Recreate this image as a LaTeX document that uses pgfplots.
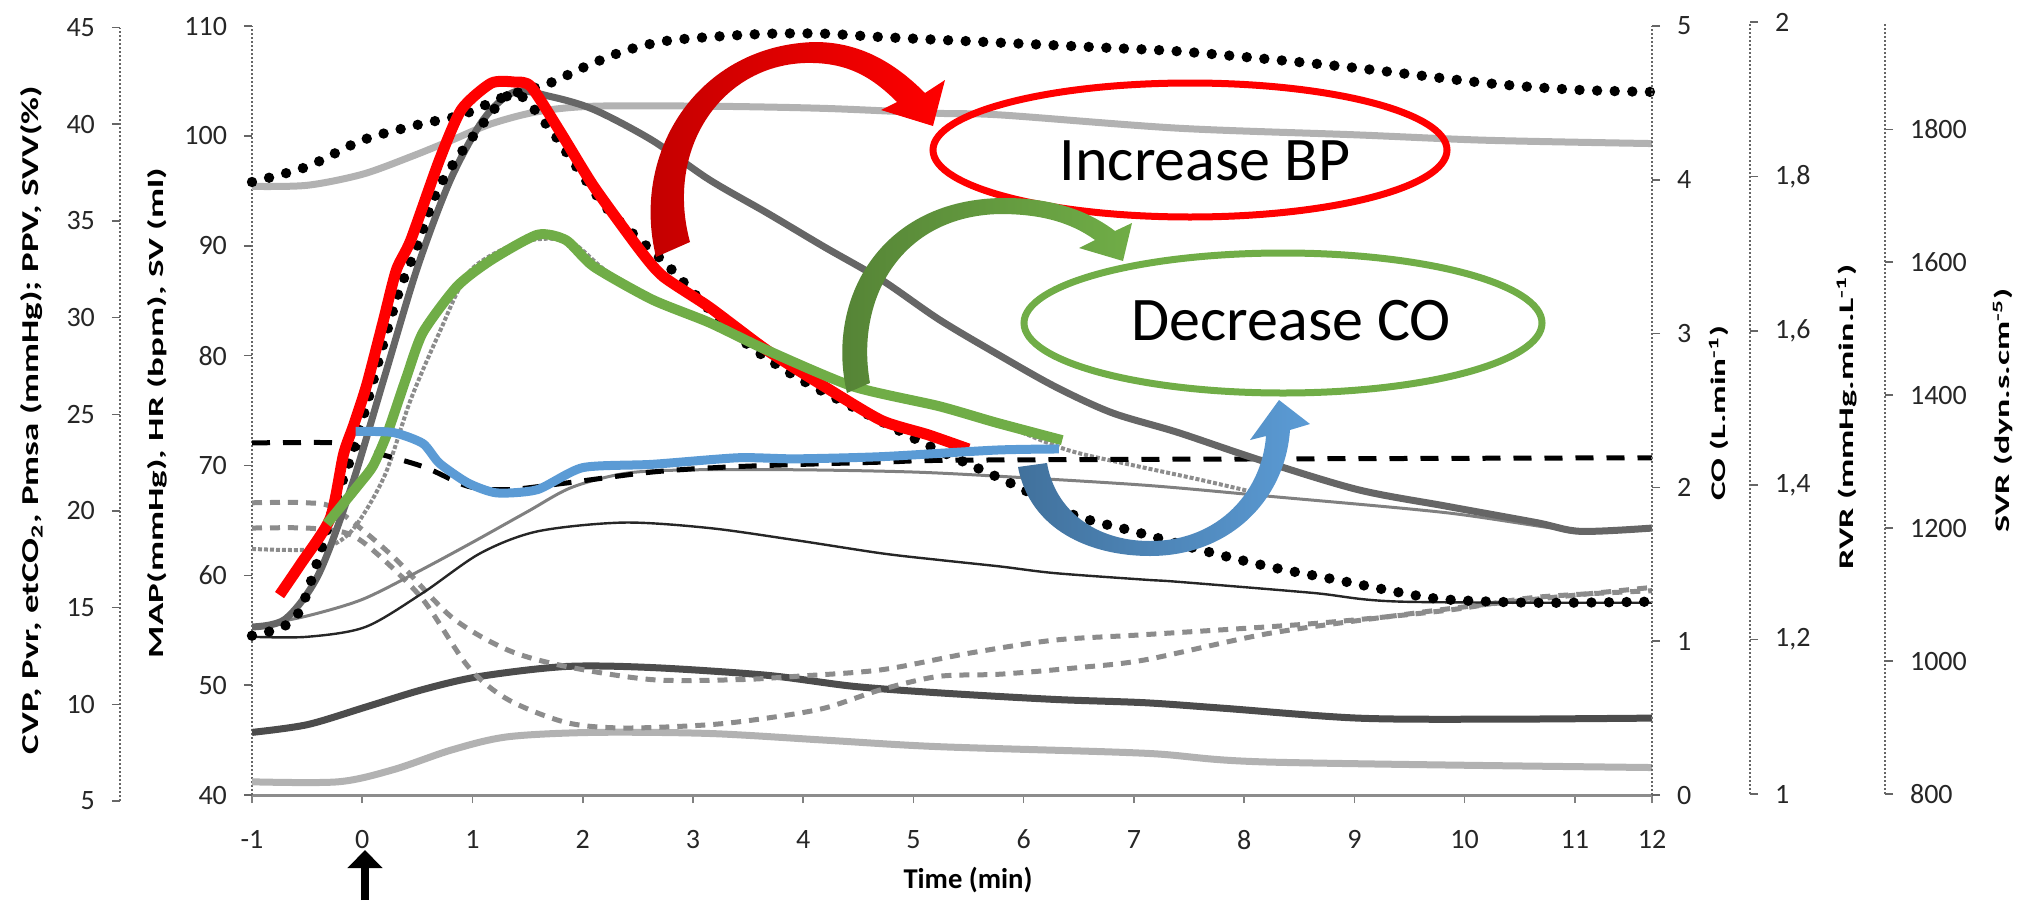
\documentclass[border=0pt]{standalone}
\usepackage{pgfplots}
\pgfplotsset{compat=1.18}
\usepackage{fontspec}
\setmainfont{Carlito}
\usepackage{graphicx}
\usetikzlibrary{arrows.meta}

\definecolor{myred}{HTML}{FF0000}
\definecolor{myreddk}{HTML}{C00000}
\definecolor{mygreen}{HTML}{70AD47}
\definecolor{mygreendk}{HTML}{548235}
\definecolor{myblue}{HTML}{5B9BD5}
\definecolor{mybluedk}{HTML}{41719C}

\pgfplotsset{
  bigdots/.style={black, line width=5.2pt, line cap=round, dash pattern=on 0pt off 8.8pt, smooth},
  sideaxis/.style={scale only axis, hide x axis, xmin=0, xmax=1,
    tick align=outside, major tick length=4pt,
    y axis line style={-, black!60, line width=1pt, densely dotted},
    ytick style={black!60, line width=0.8pt},
    tick label style={font=\fontsize{14}{16}\selectfont, text=black!85},
    /pgf/number format/assume math mode=true,
    /pgf/number format/1000 sep={}},
}

\begin{document}
\begin{tikzpicture}

% left outer axis: CVP ...
\begin{axis}[sideaxis, at={(-66pt,-3pt)}, anchor=south west, width=20pt, height=386.7pt,
  ymin=5, ymax=45, axis y line*=left, ytick={5,10,...,45}, yticklabel style={xshift=-5pt}]
\end{axis}

% main axis: MAP, HR, SV
\begin{axis}[at={(0,0)}, anchor=south west, scale only axis, width=700pt, height=384.5pt,
  xmin=-1, xmax=11.7, ymin=40, ymax=110,
  axis x line*=bottom, axis y line*=left,
  x axis line style={-, draw=black!45, line width=1.5pt},
  y axis line style={-, draw=black!60, line width=1pt, densely dotted},
  xtick={-1,0,1,2,3,4,5,6,7,8,9,10,11,11.7},
  xticklabels={-1,0,1,2,3,4,5,6,7,8,9,10,11,12},
  ytick={40,50,...,110},
  tick align=outside, major tick length=4pt,
  x tick style={black!50, line width=0.8pt},
  y tick style={black!60, line width=0.8pt},
  tick label style={font=\fontsize{14}{16}\selectfont, text=black!85},
  xticklabel style={yshift=-10pt},
  yticklabel style={xshift=-5pt},
  /pgf/number format/assume math mode=true,
  clip=false]

% L light grey bottom
\addplot[black!30, line width=3.5pt, smooth] coordinates {(-1,41.2) (-0.22,41.2) (0.28,42.3) (0.81,44.1) (1.32,45.3) (2.1,45.7) (3.15,45.6) (4.19,45.0) (5.23,44.4) (7.1,43.8) (8.22,43.0) (11.7,42.5)};
% K dark thick
\addplot[black!70, line width=3.5pt, smooth] coordinates {(-1,45.7) (-0.5,46.4) (0.03,48.0) (0.55,49.6) (1.07,50.8) (1.85,51.7) (2.63,51.6) (3.67,50.9) (4.45,49.9) (5.23,49.3) (6.28,48.7) (7.1,48.4) (7.81,47.9) (9.03,47.0) (10.24,46.9) (11.7,47.0)};
% J grey dashed lower
\addplot[black!45, line width=2.5pt, dash pattern=on 5pt off 4pt, smooth] coordinates {(-1,64.3) (-0.5,64.3) (-0.13,63.8) (0.13,62.0) (0.55,57.8) (0.96,51.7) (1.32,48.7) (1.85,46.6) (2.37,46.1) (3.15,46.4) (3.67,47.0) (4.19,47.9) (4.71,49.6) (5.23,50.8) (5.79,51.0) (6.5,51.6) (7.1,52.3) (8.22,54.7) (9.43,56.4) (10.24,57.4) (11.7,58.9)};
% I grey dashed upper
\addplot[black!45, line width=2.5pt, dash pattern=on 5pt off 4pt, smooth] coordinates {(-1,66.6) (-0.5,66.6) (-0.24,66.0) (0.28,61.7) (0.81,56.2) (1.32,53.2) (1.85,51.7) (2.63,50.5) (3.41,50.5) (3.93,50.8) (4.71,51.4) (5.5,52.9) (6.28,54.1) (7.1,54.6) (8.62,55.6) (9.83,56.8) (10.65,58.0) (11.7,58.6)};
% H thin black
\addplot[black!85, line width=1.2pt, smooth] coordinates {(-1,54.4) (-0.5,54.4) (0.03,55.3) (0.55,58.4) (1.07,62.0) (1.59,64.0) (2.37,64.8) (3.15,64.3) (3.93,63.2) (4.71,62.0) (5.23,61.4) (5.79,60.8) (6.28,60.2) (7.1,59.6) (7.41,59.4) (8.62,58.4) (9.43,57.6) (11.7,57.5)};
% G thin grey
\addplot[black!50, line width=1.5pt, smooth] coordinates {(-1,55.3) (-0.5,56.3) (0,57.8) (0.5,60.3) (1.0,63.0) (1.5,65.8) (1.9,68.0) (2.4,69.3) (3.0,69.6) (4.0,69.6) (5.0,69.4) (5.8,69.0) (7.1,68.2) (8.22,67.2) (9.83,65.7) (11.05,64.0) (11.7,64.3)};
% F grey dotted
\addplot[black!45, line width=2pt, densely dotted, smooth] coordinates {(-1,62.4) (-0.4,62.4) (-0.1,64.0) (0.2,69.0) (0.44,76.0) (0.7,82.1) (0.96,87.5) (1.3,89.8) (1.6,90.6) (1.9,90.3) (2.2,87.8) (2.63,85.0) (3.15,82.8) (3.67,80.4) (4.45,77.1) (5.23,75.3) (5.75,73.9) (6.4,71.4) (7.0,70.0) (7.6,68.7) (8.2,67.3)};
% E black dashed
\addplot[black, line width=2.5pt, dash pattern=on 9pt off 6.5pt, smooth] coordinates {(-1,72.05) (-0.18,72.05) (0.03,71.4) (0.55,69.9) (0.96,68.1) (1.32,67.8) (1.85,68.4) (2.63,69.4) (3.41,69.9) (4.71,70.3) (5.75,70.5) (11.7,70.7)};
% B light grey top
\addplot[black!30, line width=3.5pt, smooth] coordinates {(-1,95.4) (-0.5,95.5) (0,96.5) (0.44,98.1) (0.81,99.6) (1.17,101.1) (1.59,102.2) (2.1,102.7) (3.15,102.7) (4.2,102.5) (5.24,102.05) (5.8,101.9) (7.4,100.7) (9.0,100.1) (10.2,99.6) (11.7,99.3)};
% C dark grey thick
\addplot[black!60, line width=3.5pt, smooth] coordinates {(-1,55.3) (-0.7,56.0) (-0.4,60.0) (-0.1,68.0) (0.2,78.0) (0.5,88.0) (0.8,96.0) (1.1,101.5) (1.38,104.0) (1.7,103.6) (2.1,102.4) (2.63,99.6) (3.15,96.0) (3.67,93.0) (4.19,89.9) (4.71,86.9) (5.23,83.3) (5.75,80.2) (6.28,77.2) (6.8,74.8) (7.4,73.0) (8.14,70.5) (9.03,67.8) (9.83,66.3) (10.65,64.8) (11.05,64.0) (11.7,64.3)};
% D black big dots (rise and fall)
\addplot[bigdots] coordinates {(-1,54.5) (-0.72,55.3) (-0.56,56.9) (-0.38,62.1) (-0.26,66.3) (-0.11,70.5) (0.04,75.5) (0.19,81.0) (0.34,86.0) (0.5,90.0) (0.7,95.4) (1.07,100.8) (1.38,103.9) (1.69,100.8) (1.9,97.8) (2.21,93.5) (2.52,90.5) (2.78,88.1) (3.36,82.1) (3.93,78.1) (4.71,74.0) (5.2,71.5) (5.9,68.3) (6.45,65.5) (7.0,64.0) (7.61,62.3) (8.22,60.8) (8.83,59.6) (9.43,58.4) (9.83,57.8) (10.65,57.5) (11.7,57.6)};
% A black big dots (top)
\addplot[bigdots] coordinates {(-1,95.8) (-0.5,97.2) (0,99.6) (0.5,101.0) (0.9,101.9) (1.3,103.6) (1.7,104.8) (2.0,106.2) (2.37,107.7) (2.73,108.6) (3.15,109.0) (3.7,109.3) (4.2,109.3) (4.7,109.0) (5.75,108.5) (6.8,108.0) (7.4,107.7) (8.2,107.0) (9.0,106.2) (10.2,104.8) (11.0,104.2) (11.7,104.0)};

% highlighted overlays
\addplot[myred, line width=5.5pt, line join=round, smooth, tension=0.4] coordinates {(-0.75,58.2) (-0.56,61.0) (-0.29,65.2) (-0.17,71.0) (-0.08,73.6) (0.04,77.3) (0.19,83.1) (0.31,87.8) (0.44,90.5) (0.7,97.8) (0.9,102.4) (1.17,104.8) (1.38,104.9) (1.53,104.5) (1.8,100.3) (2.1,95.4) (2.52,89.6) (2.73,87.2) (3.15,84.4) (3.67,80.5) (4.19,77.2) (4.71,74.1) (5.13,72.8) (5.5,71.5)};
\addplot[mygreen, line width=5pt, line join=round, smooth, tension=0.4] coordinates {(-0.32,64.7) (-0.02,68.4) (0.1,70.0) (0.23,73.0) (0.4,78.0) (0.55,82.1) (0.86,86.3) (1.17,88.7) (1.59,91.0) (1.85,90.5) (2.1,88.1) (2.63,85.1) (3.15,83.0) (3.67,80.5) (4.45,77.2) (5.23,75.4) (5.75,73.9) (6.35,72.3)};
\addplot[myblue, line width=4.5pt, line join=round, smooth, tension=0.4] coordinates {(-0.06,73.1) (0.28,73.0) (0.55,72.0) (0.7,70.2) (0.96,68.4) (1.22,67.5) (1.59,67.8) (2.0,69.8) (2.63,70.1) (3.41,70.7) (3.93,70.6) (4.71,70.8) (5.75,71.4) (6.32,71.5)};
\end{axis}

% CO axis
\begin{axis}[sideaxis, at={(700pt,0pt)}, anchor=south east, width=20pt, height=384.5pt,
  ymin=0, ymax=5, axis y line*=right, ytick={0,1,2,3,4,5}, yticklabel style={xshift=5pt}]
\end{axis}
% RVR axis
\begin{axis}[sideaxis, at={(749pt,0.5pt)}, anchor=south east, width=20pt, height=386pt,
  ymin=1, ymax=2, axis y line*=right, ytick={1,1.2,1.4,1.6,1.8,2},
  yticklabels={1,{1,2},{1,4},{1,6},{1,8},2}, yticklabel style={xshift=5pt}]
\end{axis}
% SVR axis
\begin{axis}[sideaxis, at={(816.5pt,0.5pt)}, anchor=south east, width=20pt, height=385.5pt,
  ymin=800, ymax=1960, axis y line*=right, ytick={800,1000,1200,1400,1600,1800}, yticklabel style={xshift=5pt}]
\end{axis}

% labels and annotations (pixel frame of the reference)
\begin{scope}[shift={(-126pt,397.5pt)}, x=0.5pt, y=-0.5pt]
\node[rotate=90] at (32,420) {\resizebox{334pt}{9pt}{\bfseries CVP, Pvr, etCO\textsubscript{2}, Pmsa (mmHg); PPV, SVV(\%)}};
\node[rotate=90] at (157,413) {\resizebox{245pt}{8pt}{\bfseries MAP(mmHg), HR (bpm), SV (ml)}};
\node[rotate=90] at (1719,413) {\resizebox{87.5pt}{8.5pt}{\bfseries CO (L.min\textsuperscript{-1})}};
\node[rotate=90] at (1847,417) {\resizebox{152.5pt}{8.5pt}{\bfseries RVR (mmHg.min.L\textsuperscript{-1})}};
\node[rotate=90] at (2003,410) {\resizebox{122pt}{8.5pt}{\bfseries SVR (dyn.s.cm\textsuperscript{-5})}};
\node at (968,880) {\resizebox{64.5pt}{!}{\bfseries Time (min)}};

% black arrow under t=0
\draw[black, line width=4pt, -{Triangle[width=17pt,length=9pt]}] (365,900) -- (365,850);

% ellipses and texts
\draw[myred, line width=3.5pt] (1190,150) ellipse [x radius=257, y radius=67];
\node[anchor=base] at (1205,180) {\fontsize{31}{36}\selectfont Increase BP};
\draw[mygreen, line width=3.5pt] (1283,323) ellipse [x radius=259, y radius=70];
\node[anchor=base] at (1291,340) {\fontsize{31}{36}\selectfont Decrease CO};

% curved arrows
\shade[left color=myreddk, right color=myred] (656,257) .. controls (630,150) and (700,45) .. (815,42) .. controls (865,42) and (900,68) .. (925,93) -- (945,80) -- (933,126) -- (881,110) -- (897,102) .. controls (870,75) and (845,62) .. (805,63) .. controls (720,66) and (665,150) .. (690,242) -- cycle;
\shade[left color=mygreendk, right color=mygreen] (847,393) .. controls (825,300) and (880,198) .. (1005,198) .. controls (1055,198) and (1090,212) .. (1115,231) -- (1132,223) -- (1123,261) -- (1079,248) -- (1095,240) .. controls (1070,222) and (1040,214) .. (1000,214) .. controls (900,216) and (855,300) .. (870,383) -- cycle;
\shade[left color=mybluedk, right color=myblue] (1018,467) .. controls (1030,530) and (1090,556) .. (1150,556) .. controls (1230,556) and (1285,500) .. (1290,430) -- (1310,424) -- (1279,400) -- (1250,440) -- (1266,436) .. controls (1262,490) and (1220,541) .. (1150,541) .. controls (1095,541) and (1055,510) .. (1047,463) -- cycle;

% final page size = reference frame
\pgfresetboundingbox
\path[use as bounding box] (0,0) rectangle (2028,902);
\end{scope}
\end{tikzpicture}
\end{document}
